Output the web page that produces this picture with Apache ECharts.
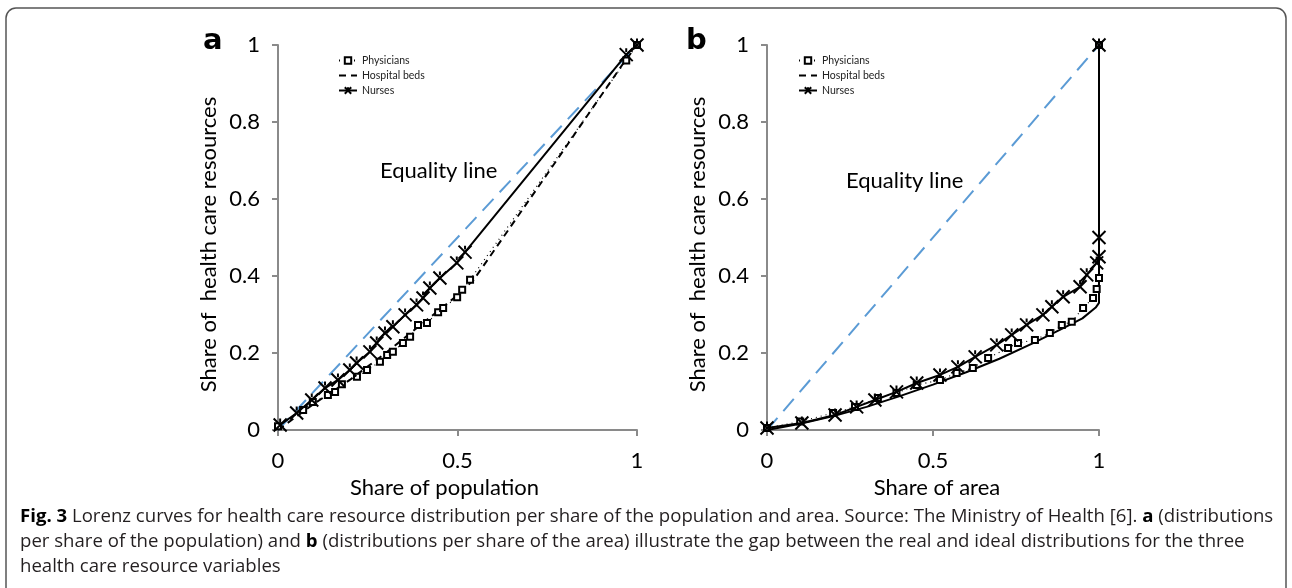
<!DOCTYPE html>
<html><head><meta charset="utf-8">
<script src="https://cdn.jsdelivr.net/npm/echarts@6/dist/echarts.min.js"></script>
<style>html,body{margin:0;padding:0;background:#fff}#c{width:1292px;height:588px}</style>
</head><body><div id="c"></div>
<script>
// ---- data (share x, share y) ----
const seriesNames = ['Physicians', 'Hospital beds', 'Nurses'];
const yTicks = [0, 0.2, 0.4, 0.6, 0.8, 1];
const xTicks = [0, 0.5, 1];
const equality = [[0, 0], [1, 1]];

// Panel a: share of population
const physiciansA = [[0,0.01],[0.07,0.052],[0.097,0.073],[0.139,0.091],[0.159,0.099],[0.178,0.119],[0.22,0.138],[0.248,0.156],[0.284,0.177],[0.304,0.195],[0.32,0.203],[0.348,0.226],[0.368,0.242],[0.39,0.273],[0.415,0.278],[0.446,0.306],[0.46,0.317],[0.499,0.345],[0.513,0.364],[0.535,0.39],[0.97,0.96],[1,1]];
const bedsA = [[0,0],[0.1,0.068],[0.2,0.13],[0.3,0.2],[0.4,0.275],[0.5,0.35],[0.545,0.39],[0.75,0.665],[0.96,0.95],[1,1]];
const nursesA = [[0.006,0.013],[0.052,0.044],[0.094,0.078],[0.131,0.109],[0.167,0.13],[0.2,0.156],[0.219,0.174],[0.256,0.203],[0.275,0.226],[0.298,0.252],[0.32,0.268],[0.354,0.299],[0.386,0.325],[0.404,0.343],[0.423,0.369],[0.451,0.395],[0.498,0.434],[0.521,0.462],[0.97,0.975],[1,1]];

// Panel b: share of area
const physiciansB = [[0,0.005],[0.1,0.022],[0.199,0.044],[0.265,0.06],[0.334,0.083],[0.39,0.096],[0.451,0.117],[0.521,0.13],[0.571,0.148],[0.62,0.161],[0.666,0.187],[0.726,0.213],[0.756,0.226],[0.807,0.234],[0.852,0.252],[0.888,0.273],[0.918,0.281],[0.952,0.317],[0.982,0.343],[0.993,0.366],[1,0.395],[1,1]];
const bedsB = [[0,0],[0.1,0.016],[0.2,0.036],[0.3,0.06],[0.4,0.088],[0.5,0.118],[0.6,0.15],[0.7,0.185],[0.8,0.225],[0.9,0.268],[0.95,0.29],[0.99,0.318],[1,0.33],[1,1]];
const nursesB = [[0,0.005],[0.105,0.018],[0.205,0.039],[0.27,0.06],[0.325,0.078],[0.39,0.099],[0.451,0.122],[0.521,0.143],[0.575,0.164],[0.627,0.19],[0.692,0.221],[0.737,0.247],[0.782,0.273],[0.831,0.299],[0.858,0.32],[0.892,0.346],[0.943,0.372],[0.963,0.403],[0.993,0.434],[1,0.45],[1,0.5],[1,1]];

// ---- chart ----
const axisColor = '#8a8a8a';
const txtFont = 'Lato, "Open Sans", sans-serif';
const capFont = '"Open Sans", sans-serif';
const crossPath = 'path://M0,0L10,10M10,0L0,10M5,0L5,3';

function xAxis(idx, name, pad) {
  return {
    gridIndex: idx, type: 'value', min: 0, max: 1, interval: 0.5,
    name: name, nameLocation: 'middle', nameGap: 38,
    nameTextStyle: { fontFamily: txtFont, fontSize: 22, color: '#000', padding: pad },
    axisLine: { lineStyle: { color: axisColor, width: 2 } },
    axisTick: { show: true, length: 6, lineStyle: { color: axisColor, width: 2 } },
    axisLabel: { fontFamily: txtFont, fontSize: 22, color: '#000', margin: 20 },
    splitLine: { show: false }
  };
}
function yAxis(idx) {
  return {
    gridIndex: idx, type: 'value', min: 0, max: 1, interval: 0.2,
    name: 'Share of  health care resources', nameLocation: 'middle', nameGap: 58,
    nameTextStyle: { fontFamily: txtFont, fontSize: 22, color: '#000', padding: [0, 14, 0, 0] },
    axisLine: { show: true, lineStyle: { color: axisColor, width: 2 } },
    axisTick: { show: true, length: 6, lineStyle: { color: axisColor, width: 2 } },
    axisLabel: { fontFamily: txtFont, fontSize: 22, color: '#000', margin: 18, padding: [7, 0, 0, 0] },
    splitLine: { show: false }
  };
}
function panelSeries(idx, phys, beds, nurses, bedsSolid) {
  return [
    { name: 'Equality', type: 'line', xAxisIndex: idx, yAxisIndex: idx, data: equality,
      showSymbol: false, lineStyle: { color: '#5B9BD5', width: 2, type: [16, 9] }, z: 1, silent: true },
    { name: 'Hospital beds', type: 'line', xAxisIndex: idx, yAxisIndex: idx, data: beds,
      symbol: 'none', color: '#000', itemStyle: { opacity: 0 },
      lineStyle: { color: '#000', width: 2, type: bedsSolid ? 'solid' : [7, 5] }, z: 2 },
    { name: 'Physicians', type: 'line', xAxisIndex: idx, yAxisIndex: idx, data: phys,
      symbol: 'emptyRect', symbolSize: 6, showAllSymbol: true, color: '#000',
      itemStyle: { color: '#000', borderWidth: 1.6 },
      lineStyle: { color: '#000', width: 1.2, type: [1, 4] }, z: 3 },
    { name: 'Nurses', type: 'line', xAxisIndex: idx, yAxisIndex: idx, data: nurses,
      symbol: crossPath, symbolSize: 13, showAllSymbol: true, color: '#000',
      itemStyle: { color: 'rgba(0,0,0,0)', borderColor: '#000', borderWidth: 2 },
      lineStyle: { color: '#000', width: 2 }, z: 4 }
  ];
}
function legend(left) {
  return {
    data: seriesNames,
    orient: 'vertical', left: left, top: 50, itemGap: 4,
    itemWidth: 18, itemHeight: 8, selectedMode: false,
    textStyle: { fontFamily: txtFont, fontSize: 10.5, color: '#222' }
  };
}

const chart = echarts.init(document.getElementById('c'), null, { renderer: 'canvas' });
chart.setOption({
  backgroundColor: '#fff',
  animation: false,
  grid: [
    { left: 278, top: 45, width: 359, height: 385 },
    { left: 767, top: 45, width: 332, height: 385 }
  ],
  xAxis: [xAxis(0, 'Share of population', [0, 26, 0, 0]), xAxis(1, 'Share of area', [0, 0, 0, 8])],
  yAxis: [yAxis(0), yAxis(1)],
  legend: [legend(333), legend(793)],
  series: [].concat(
    panelSeries(0, physiciansA, bedsA, nursesA, false),
    panelSeries(1, physiciansB, bedsB, nursesB, true)
  ),
  graphic: [
    { type: 'rect', shape: { x: 6, y: 8, width: 1280, height: 600, r: 10 },
      style: { fill: 'none', stroke: '#555', lineWidth: 1.5 }, silent: true, z: -1 },
    { type: 'text', left: 203, top: 27, style: { text: 'a', font: 'bold 29px "DejaVu Sans", sans-serif', fill: '#000' } },
    { type: 'text', left: 686, top: 27, style: { text: 'b', font: 'bold 29px "DejaVu Sans", sans-serif', fill: '#000' } },
    { type: 'text', left: 380, top: 160, style: { text: 'Equality line', font: '22px ' + txtFont, fill: '#000' } },
    { type: 'text', left: 846, top: 170, style: { text: 'Equality line', font: '22px ' + txtFont, fill: '#000' } },
    { type: 'text', left: 20, top: 507, style: {
        text: '{b|Fig. 3} Lorenz curves for health care resource distribution per share of the population and area. Source: The Ministry of Health [6]. {b|a} (distributions',
        font: '18.6px ' + capFont, fill: '#231f20',
        rich: { b: { font: 'bold 18.6px ' + capFont, fill: '#000' } } } },
    { type: 'text', left: 20, top: 532, style: {
        text: 'per share of the population) and {b|b} (distributions per share of the area) illustrate the gap between the real and ideal distributions for the three',
        font: '18.6px ' + capFont, fill: '#231f20',
        rich: { b: { font: 'bold 18.6px ' + capFont, fill: '#000' } } } },
    { type: 'text', left: 20, top: 557, style: {
        text: 'health care resource variables', font: '18.6px ' + capFont, fill: '#231f20' } }
  ]
});
</script>
</body></html>
